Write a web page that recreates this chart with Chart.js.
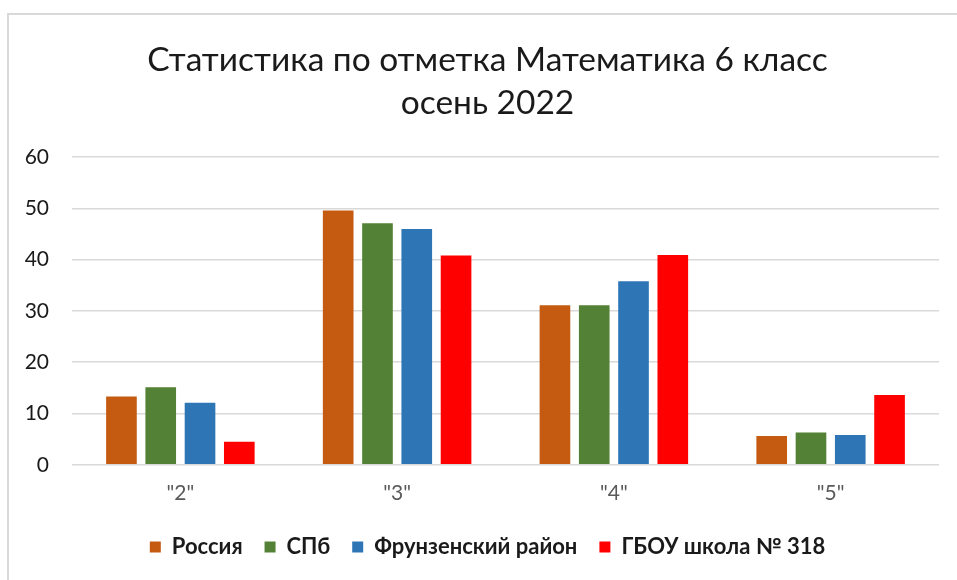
<!DOCTYPE html>
<html lang="ru">
<head>
<meta charset="utf-8">
<title>Статистика по отметка Математика 6 класс</title>
<script src="https://cdn.jsdelivr.net/npm/chart.js@4/dist/chart.umd.min.js"></script>
<style>
  html, body { margin: 0; padding: 0; background: #fff; overflow: hidden; }
  #frame {
    position: absolute; left: 7px; top: 13px; width: 980px; height: 600px;
    border: 2px solid #d9d9d9; box-sizing: border-box;
  }
  #wrap { position: absolute; left: 0; top: 0; width: 957px; height: 580px; }
</style>
</head>
<body>
<div id="frame"></div>
<div id="wrap"><canvas id="chart" width="957" height="580"></canvas></div>
<script>
'use strict';

// Kategorien (Noten) und Werte in %
const categories = ['"2"', '"3"', '"4"', '"5"'];
const russia = [13.3, 49.6, 31.1, 5.6];
const spb = [15.1, 47.1, 31.1, 6.3];
const frunzensky = [12.1, 46.0, 35.8, 5.8];
const school318 = [4.5, 40.8, 40.9, 13.6];
const seriesNames = ['Россия', 'СПб', 'Фрунзенский район', 'ГБОУ школа № 318'];
const yTicks = [0, 10, 20, 30, 40, 50, 60];

const colors = ['#C55A11', '#538135', '#2E75B6', '#FF0000'];
const fontFamily = 'Lato, "Noto Sans", sans-serif';

// Datensätze aufbauen
const datasets = [russia, spb, frunzensky, school318].map((values, i) => ({
  label: seriesNames[i],
  data: values,
  backgroundColor: colors[i],
  borderWidth: 0,
  categoryPercentage: 0.725,
  barPercentage: 0.78,
}));

const ctx = document.getElementById('chart').getContext('2d');

new Chart(ctx, {
  type: 'bar',
  data: { labels: categories, datasets },
  options: {
    responsive: false,
    animation: false,
    layout: { padding: { left: 18, right: 0, top: 0, bottom: 12 } },
    plugins: {
      title: {
        display: true,
        text: ['Статистика по отметка Математика 6 класс', 'осень 2022'],
        color: '#1a1a1a',
        font: { family: fontFamily, size: 33.5, weight: 'normal', lineHeight: 1.3 },
        padding: { top: 38, bottom: 32 },
      },
      legend: {
        position: 'bottom',
        labels: {
          color: '#1a1a1a',
          font: { family: fontFamily, size: 22, weight: 'bold' },
          boxWidth: 11,
          boxHeight: 11,
          padding: 22,
        },
      },
      tooltip: { enabled: false },
    },
    scales: {
      x: {
        grid: { display: false },
        border: { display: false },
        ticks: {
          color: '#595959',
          font: { family: fontFamily, size: 21 },
          padding: 8,
        },
      },
      y: {
        min: 0,
        max: 60,
        afterBuildTicks: scale => {
          scale.ticks = yTicks.map(v => ({ value: v }));
        },
        afterFit: scale => {
          scale.width = 54;
        },
        grid: { color: '#d9d9d9', lineWidth: 1.5, drawTicks: false },
        border: { display: false },
        ticks: {
          color: '#1a1a1a',
          font: { family: fontFamily, size: 21 },
          padding: 23,
        },
      },
      // leere Achse rechts: Rand, damit Titel und Legende wie im Original sitzen
      spacer: {
        type: 'linear',
        position: 'right',
        grid: { display: false },
        border: { display: false },
        ticks: { display: false },
        afterFit: scale => {
          scale.width = 18;
        },
      },
    },
  },
});
</script>
</body>
</html>
